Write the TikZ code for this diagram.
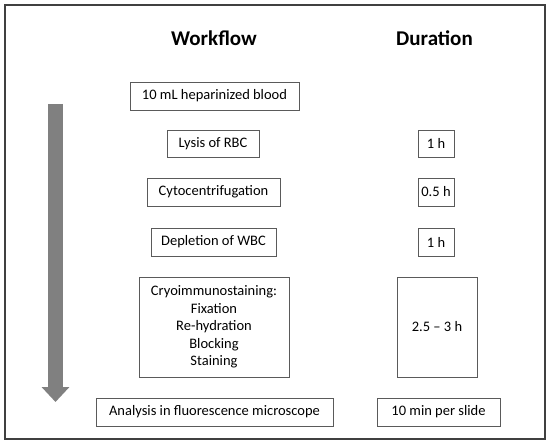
\documentclass[tikz,border=0pt]{standalone}
\usepackage{fontspec}
\setmainfont{Carlito}
\usetikzlibrary{arrows.meta}
\definecolor{framegray}{HTML}{404040}
\definecolor{boxgray}{HTML}{5A5A5A}
\definecolor{arrowgray}{HTML}{808080}
\begin{document}
\begin{tikzpicture}[x=1pt,y=-1pt,
  box/.style={draw=boxgray, line width=0.9pt, inner sep=0pt, font=\fontsize{14.5}{17.5}\selectfont, align=center},
  head/.style={inner sep=0pt, font=\bfseries\fontsize{21}{25}\selectfont}]
\useasboundingbox (0,0) rectangle (550,444);
\draw[framegray, line width=1.4pt] (5,5) rectangle (545,439);
\node[head] (hw) at (214,38) {Workflow};
\node[head] (hd) at (434.5,38) {Duration};
% workflow boxes
\node[box, minimum width=169pt, minimum height=28pt] (blood) at (214.5,96) {10 mL heparinized blood};
\node[box, minimum width=92pt, minimum height=27pt] (lysis) at (213,143.5) {Lysis of RBC};
\node[box, minimum width=133pt, minimum height=28pt] (cyto) at (213.5,192) {Cytocentrifugation};
\node[box, minimum width=125pt, minimum height=28pt] (depl) at (213.5,242) {Depletion of WBC};
\node[box, minimum width=150pt, minimum height=100pt] (cryo) at (214,327) {Cryoimmunostaining:\\Fixation\\Re-hydration\\Blocking\\Staining};
\node[box, minimum width=237pt, minimum height=28pt] (anal) at (214.5,412) {Analysis in fluorescence microscope};
% duration boxes
\node[box, minimum width=36pt, minimum height=27pt] (d1) at (436,143.5) {1 h};
\node[box, minimum width=36pt, minimum height=28pt] (d2) at (436,192) {0.5 h};
\node[box, minimum width=36pt, minimum height=28pt] (d3) at (436,242) {1 h};
\node[box, minimum width=80pt, minimum height=100pt] (d4) at (437,327) {2.5 -- 3 h};
\node[box, minimum width=123pt, minimum height=28pt] (d5) at (438.5,412) {10 min per slide};
% big arrow
\coordinate (atop) at (55.5,104);
\coordinate (abot) at (55.5,402);
\draw[arrowgray, line width=15pt, -{Triangle[width=27pt,length=15pt]}] (atop) -- (abot);
\end{tikzpicture}
\end{document}
